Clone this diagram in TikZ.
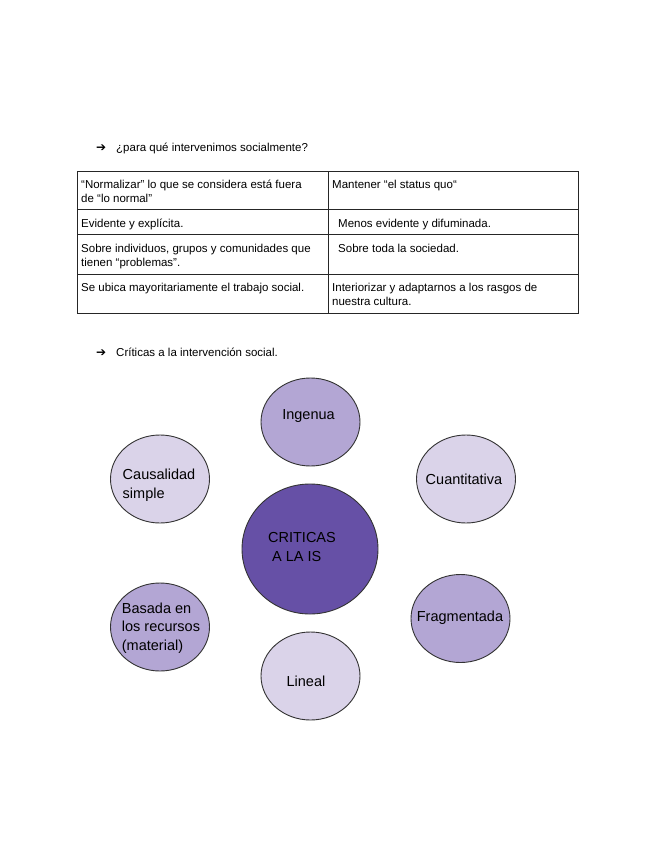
\documentclass[tikz,border=0pt]{standalone}
\usepackage{fontspec}
\setmainfont{Liberation Sans}
\newfontfamily\dejavu{DejaVu Sans}
\usetikzlibrary{shapes.geometric}
\definecolor{cdark}{HTML}{6650A6}
\definecolor{cmid}{HTML}{B3A6D4}
\definecolor{clight}{HTML}{DAD3E9}
\definecolor{cline}{HTML}{333333}
\tikzset{
  bub/.style={ellipse, draw=cline, line width=0.9pt, inner sep=0pt},
  small/.style={ellipse, bub, minimum width=99pt, minimum height=88pt},
  ctext/.style={font=\fontsize{14.5}{18.5}\selectfont, align=left, inner sep=0pt, text=black},
  ttext/.style={font=\fontsize{11.5}{14}\selectfont, anchor=base west, inner sep=0pt, text=black},
  arrowtxt/.style={font=\dejavu\fontsize{12}{14}\selectfont, anchor=base west, inner sep=0pt, text=black},
  rule/.style={line width=0.9pt, draw=black!85}
}
\begin{document}
\begin{tikzpicture}[x=1pt,y=-1pt]
\useasboundingbox[fill=white] (0,0) rectangle (655,848);

% headings
\node[arrowtxt] (arr1) at (96,151.5) {➔};
\node[ttext] (h1) at (116,151) {¿para qué intervenimos socialmente?};
\node[arrowtxt] (arr2) at (96,356.5) {➔};
\node[ttext] (h2) at (116,356) {Críticas a la intervención social.};

% table
\draw[rule] (77,171) rectangle (578,313);
\draw[rule] (328,171) -- (328,313);
\draw[rule] (77,209) -- (578,209);
\draw[rule] (77,234) -- (578,234);
\draw[rule] (77,274) -- (578,274);

\node[ttext] (a1) at (81,188) {“Normalizar” lo que se considera está fuera};
\node[ttext] (a1b) at (81,202) {de “lo normal”};
\node[ttext] (b1) at (332,188) {Mantener “el status quo“};
\node[ttext] (a2) at (81,227) {Evidente y explícita.};
\node[ttext] (b2) at (338,227) {Menos evidente y difuminada.};
\node[ttext] (a3) at (81,252) {Sobre individuos, grupos y comunidades que};
\node[ttext] (a3b) at (81,266) {tienen “problemas”.};
\node[ttext] (b3) at (338,252) {Sobre toda la sociedad.};
\node[ttext] (a4) at (81,291) {Se ubica mayoritariamente el trabajo social.};
\node[ttext] (b4) at (332,291) {Interiorizar y adaptarnos a los rasgos de};
\node[ttext] (b4b) at (332,305) {nuestra cultura.};

% bubbles
\node[bub, fill=cdark, minimum width=136pt, minimum height=130pt] (cen) at (310,549) {};
\node[small, fill=cmid] (ing) at (310.5,422) {};
\node[small, fill=clight] (cau) at (160,479) {};
\node[small, fill=clight] (cua) at (466,479) {};
\node[small, fill=cmid] (bas) at (160,627) {};
\node[small, fill=cmid] (fra) at (460.5,618.5) {};
\node[small, fill=clight] (lin) at (310.5,676) {};

\node[ctext] (tcen) at (302,547) {CRITICAS\\\ A LA IS};
\node[ctext] (ting) at (308.5,416) {Ingenua};
\node[ctext] (tcau) at (159,485) {Causalidad\\simple};
\node[ctext] (tcua) at (464,479) {Cuantitativa};
\node[ctext] (tbas) at (161,628) {Basada en\\los recursos\\(material)};
\node[ctext] (tfra) at (460,618) {Fragmentada};
\node[ctext] (tlin) at (306,681) {Lineal};
\end{tikzpicture}
\end{document}
